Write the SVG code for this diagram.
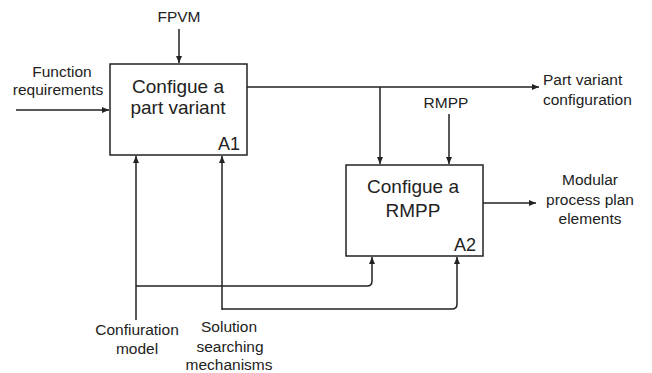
<svg xmlns="http://www.w3.org/2000/svg" width="652" height="373" viewBox="0 0 652 373">
<defs>
<marker id="ah" markerWidth="8" markerHeight="8" refX="7" refY="4" orient="auto" markerUnits="userSpaceOnUse">
<path d="M0,1 L7,4 L0,7 Z" fill="#222"/>
</marker>
<style>
.box{fill:#fff;stroke:#222;stroke-width:1.5}
.ln{fill:none;stroke:#222;stroke-width:1.5}
.t{font-family:"Liberation Sans",Arial,sans-serif;font-size:15.5px;fill:#222;text-anchor:middle}
.tl{font-family:"Liberation Sans",Arial,sans-serif;font-size:15.5px;fill:#222}
.title{font-family:"Liberation Sans",Arial,sans-serif;font-size:19px;fill:#222;text-anchor:middle}
.id{font-family:"Liberation Sans",Arial,sans-serif;font-size:18px;fill:#222;text-anchor:end}
</style>
</defs>
<rect width="652" height="373" fill="#fff"/>
<g id="connectors">
<line class="ln" x1="179" y1="29" x2="179" y2="63" marker-end="url(#ah)"/>
<line class="ln" x1="16" y1="110" x2="109" y2="110" marker-end="url(#ah)"/>
<line class="ln" x1="247" y1="87" x2="539" y2="87" marker-end="url(#ah)"/>
<line class="ln" x1="380" y1="87" x2="380" y2="164" marker-end="url(#ah)"/>
<line class="ln" x1="449" y1="114" x2="449" y2="164" marker-end="url(#ah)"/>
<line class="ln" x1="483" y1="203" x2="536" y2="203" marker-end="url(#ah)"/>
<line class="ln" x1="136" y1="320" x2="136" y2="156" marker-end="url(#ah)"/>
<line class="ln" x1="222" y1="310" x2="222" y2="156" marker-end="url(#ah)"/>
<path class="ln" d="M136,286 H367 Q372,286 372,281 V257" marker-end="url(#ah)"/>
<path class="ln" d="M222,309 H452 Q457,309 457,304 V257" marker-end="url(#ah)"/>
</g>
<g id="A1">
<rect class="box" x="110" y="64" width="137" height="91"/>
<text class="title" x="178" y="93">Configue a</text>
<text class="title" x="178" y="114">part variant</text>
<text class="id" x="240" y="150">A1</text>
</g>
<g id="A2">
<rect class="box" x="346" y="165" width="137" height="91"/>
<text class="title" x="413" y="193">Configue a</text>
<text class="title" x="413" y="217">RMPP</text>
<text class="id" x="476" y="251">A2</text>
</g>
<g id="labels">
<text class="t" x="179" y="22">FPVM</text>
<text class="t" x="62" y="77">Function</text>
<text class="t" x="58" y="95">requirements</text>
<text class="tl" x="543" y="85">Part variant</text>
<text class="tl" x="543" y="105">configuration</text>
<text class="t" x="446" y="108">RMPP</text>
<text class="t" x="590" y="185">Modular</text>
<text class="t" x="590" y="205">process plan</text>
<text class="t" x="590" y="224">elements</text>
<text class="t" x="137" y="335">Confiuration</text>
<text class="t" x="137" y="354">model</text>
<text class="t" x="229" y="332">Solution</text>
<text class="t" x="230" y="352">searching</text>
<text class="t" x="229" y="370">mechanisms</text>
</g>
</svg>
